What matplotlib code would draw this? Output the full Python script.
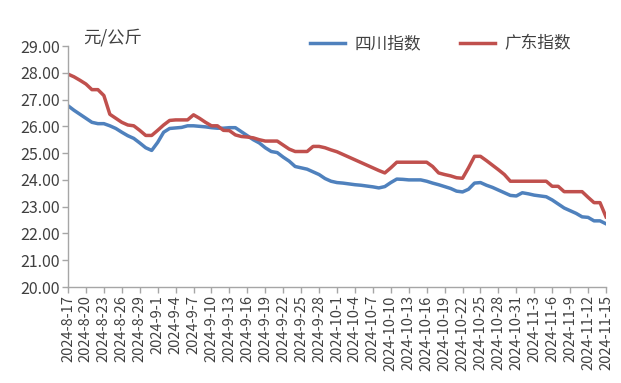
import matplotlib
matplotlib.use("Agg")
import matplotlib.pyplot as plt
import numpy as np
import pandas as pd

plt.rcParams['font.family'] = ['Noto Sans CJK SC', 'DejaVu Sans']

dates = pd.date_range("2024-08-17", "2024-11-15", freq="D")
date_labels = [f"{d.year}-{d.month}-{d.day}" for d in dates]

sichuan = [26.77, 26.6, 26.45, 26.3, 26.15, 26.1, 26.1, 26.02, 25.92, 25.78,
           25.65, 25.55, 25.38, 25.2, 25.1, 25.4, 25.78, 25.92, 25.94, 25.96,
           26.02, 26.02, 26.0, 25.98, 25.95, 25.93, 25.93, 25.95, 25.95, 25.8,
           25.65, 25.5, 25.38, 25.2, 25.06, 25.02, 24.85, 24.7, 24.5, 24.45,
           24.4, 24.3, 24.2, 24.05, 23.95, 23.9, 23.88, 23.85, 23.82, 23.8,
           23.77, 23.74, 23.7, 23.75, 23.9, 24.03, 24.02, 24.0, 24.0, 24.0,
           23.95, 23.88, 23.82, 23.75, 23.68, 23.58, 23.55, 23.65, 23.88, 23.9,
           23.8, 23.72, 23.62, 23.52, 23.42, 23.4, 23.52, 23.48, 23.43, 23.4,
           23.37, 23.25, 23.1, 22.95, 22.85, 22.75, 22.62, 22.6, 22.47, 22.47,
           22.36]

guangdong = [27.95, 27.85, 27.72, 27.58, 27.37, 27.37, 27.15, 26.45, 26.3, 26.15,
             26.05, 26.02, 25.85, 25.66, 25.66, 25.85, 26.05, 26.22, 26.24, 26.24,
             26.24, 26.43, 26.3, 26.15, 26.02, 26.02, 25.85, 25.84, 25.68, 25.62,
             25.6, 25.57, 25.5, 25.45, 25.45, 25.45, 25.3, 25.15, 25.06, 25.06,
             25.06, 25.25, 25.25, 25.2, 25.12, 25.05, 24.95, 24.85, 24.75, 24.65,
             24.55, 24.45, 24.35, 24.26, 24.45, 24.66, 24.66, 24.66, 24.66, 24.66,
             24.66, 24.5, 24.26, 24.2, 24.15, 24.08, 24.06, 24.45, 24.88, 24.88,
             24.72, 24.55, 24.38, 24.2, 23.95, 23.95, 23.95, 23.95, 23.95, 23.95,
             23.95, 23.76, 23.76, 23.56, 23.56, 23.56, 23.56, 23.35, 23.15, 23.15,
             22.62]

series_names = ["四川指数", "广东指数"]
colors = ["#4F81BD", "#C0504D"]
yticks = [20, 21, 22, 23, 24, 25, 26, 27, 28, 29]

fig = plt.figure(figsize=(6.21, 3.83), dpi=100)
ax = fig.add_axes([68/621, 1-287/383, (606-68)/621, (287-46)/383])

x = np.arange(len(dates))
ax.plot(x, sichuan, color=colors[0], lw=2.5, label=series_names[0], solid_joinstyle='round')
ax.plot(x, guangdong, color=colors[1], lw=2.5, label=series_names[1], solid_joinstyle='round')

ax.set_xlim(0, len(dates)-1)
ax.set_ylim(20, 29)
ax.set_yticks(yticks)
ax.set_yticklabels([f"{v:.2f}" for v in yticks], fontsize=11.5, color="#404040")
tick_idx = x[::3]
ax.set_xticks(tick_idx)
ax.set_xticklabels([date_labels[i] for i in tick_idx], rotation=90, fontsize=10.5, color="#404040")

for s in ["top", "right"]:
    ax.spines[s].set_visible(False)
for s in ["left", "bottom"]:
    ax.spines[s].set_color("#a6a6a6")
    ax.spines[s].set_linewidth(1.0)
ax.tick_params(axis="both", color="#a6a6a6", length=4, width=1, pad=2)

fig.text(83/621, 1-38/383, "元/公斤", fontsize=12.5, color="#404040", va="center", ha="left")

leg = fig.legend(loc="center left", bbox_to_anchor=(310/621, 1-44/383), ncol=2, frameon=False,
                 fontsize=12, handlelength=2.1, columnspacing=2.3, handletextpad=0.6,
                 borderpad=0, borderaxespad=0)
for t in leg.get_texts():
    t.set_color("#404040")

fig.savefig("out.png", dpi=100)
